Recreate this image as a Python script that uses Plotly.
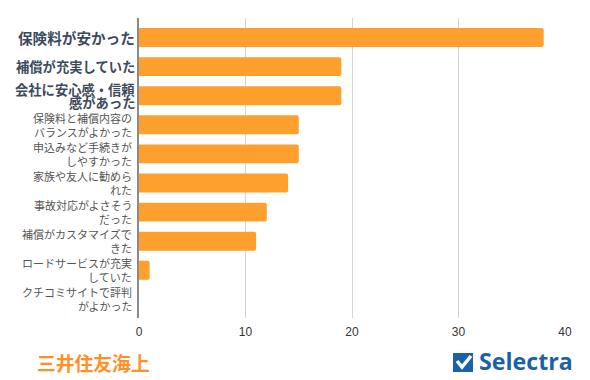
import plotly.graph_objects as go

categories = [
    "保険料が安かった", "補償が充実していた", "会社に安心感・信頼<br>感があった",
    "保険料と補償内容の<br>バランスがよかった", "申込みなど手続きが<br>しやすかった",
    "家族や友人に勧めら<br>れた", "事故対応がよさそう<br>だった",
    "補償がカスタマイズで<br>きた", "ロードサービスが充実<br>していた",
    "クチコミサイトで評判<br>がよかった",
]
values = [38, 19, 19, 15, 15, 14, 12, 11, 1, 0]
tick_values = [0, 10, 20, 30, 40]
title_text = "三井住友海上"
brand_text = "Selectra"
JP = "Noto Sans CJK JP, Noto Sans, sans-serif"
OFF = 8  # the page's own margin
W, H = 590 - OFF, 380 - OFF
L, R, T, B = 139, 565, 18, 318
XMAX = 40

def px(x): return (x - L) / (R - L)
def py(y): return (B - y) / (B - T)

fig = go.Figure(go.Bar(
    y=categories, x=values, orientation="h",
    marker=dict(color="#ff9f2e", line_width=0, cornerradius=2),
    width=0.65, hoverinfo="skip",
))

styles = [
    (14.6, "#3d4a5c", True), (13.3, "#3d4a5c", True), (13.3, "#3d4a5c", True),
] + [(11, "#555555", False)] * 7
ann = []
for c, (size, col, bold) in zip(categories, styles):
    lines = c.split("<br>")
    gap = 13 if bold else 14
    for i, line in enumerate(lines):
        shift = (len(lines) - 1) / 2 * gap - i * gap
        ann.append(dict(x=0, y=c, xref="x", yref="y", text="<b>%s</b>" % line if bold else line,
                        showarrow=False, xanchor="right", align="right",
                        xshift=-2 if bold else -5, yshift=shift,
                        font=dict(size=size, color=col, family=JP)))
ann.append(dict(x=px(37), y=py(362), xref="paper", yref="paper", text="<b>%s</b>" % title_text,
                showarrow=False, xanchor="left", yanchor="middle", xshift=-2,
                font=dict(size=18.8, color="#ff8f26", family=JP)))
ann.append(dict(x=px(479), y=py(361), xref="paper", yref="paper", text="<b>%s</b>" % brand_text,
                showarrow=False, xanchor="left", yanchor="middle", xshift=-2,
                font=dict(size=23.2, color="#1a62a8", family="Open Sans, sans-serif")))

shapes = [
    dict(type="rect", xref="paper", yref="paper", x0=px(453), x1=px(473),
         y0=py(372), y1=py(353), fillcolor="#1a62a8", line_width=0, layer="above"),
    dict(type="path", xref="paper", yref="paper",
         path="M %f %f L %f %f L %f %f" % (px(457), py(361), px(462), py(367), px(471), py(356)),
         line=dict(color="white", width=3.5), layer="above"),
]

fig.update_layout(
    width=W, height=H, autosize=False, showlegend=False,
    paper_bgcolor="white", plot_bgcolor="white",
    margin=dict(l=L - OFF, r=W + OFF - R, t=T - OFF, b=H + OFF - B),
    annotations=ann, shapes=shapes,
    xaxis=dict(range=[0, XMAX], tickvals=tick_values, showgrid=True, gridcolor="#d4d4d4", gridwidth=1,
               zeroline=False, showline=False, ticks="outside", ticklen=3, tickcolor="rgba(0,0,0,0)",
               tickfont=dict(size=12, color="#333333", family="Liberation Sans, Arial, sans-serif")),
    yaxis=dict(autorange=False, range=[9.64, -0.67], type="category", showticklabels=False, ticks="",
               showline=True, linecolor="#8a8a8a", linewidth=2, showgrid=False, zeroline=False),
)
fig.write_html("out.html")
